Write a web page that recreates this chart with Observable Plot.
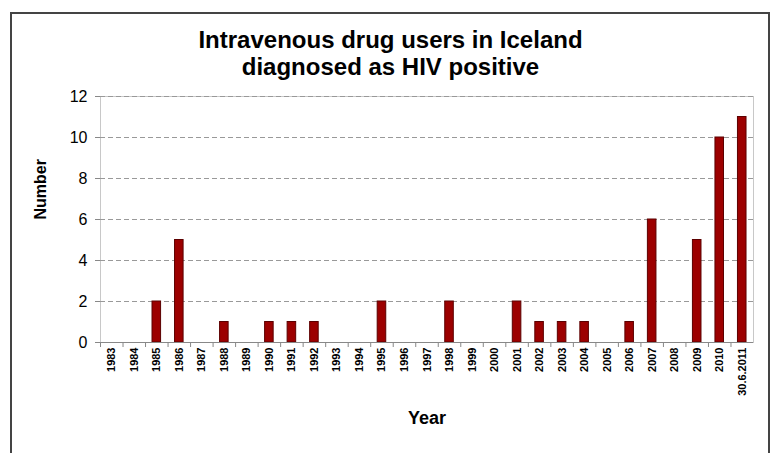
<!DOCTYPE html>
<html><head><meta charset="utf-8">
<script src="https://cdn.jsdelivr.net/npm/d3@7"></script>
<script src="https://cdn.jsdelivr.net/npm/@observablehq/plot@0.6"></script>
<style>
html,body{margin:0;padding:0;background:#fff;}
body{width:774px;height:453px;position:relative;overflow:hidden;font-family:"Liberation Sans",Arial,sans-serif;}
#frame{position:absolute;left:10px;top:12px;width:756px;height:460px;border:2px solid #444;border-bottom:none;}
#title{position:absolute;left:12px;top:26px;width:757px;text-align:center;font-weight:bold;font-size:24px;line-height:27px;color:#000;}
#chart{position:absolute;left:0;top:0;}
</style></head>
<body>
<div id="frame"></div>
<div id="title">Intravenous drug users in Iceland<br>diagnosed as HIV positive</div>
<div id="chart"></div>
<script>
const categories = ["1983","1984","1985","1986","1987","1988","1989","1990","1991","1992","1993","1994","1995","1996","1997","1998","1999","2000","2001","2002","2003","2004","2005","2006","2007","2008","2009","2010","30.6.2011"];
const values = [0,0,2,5,0,1,0,1,1,1,0,0,2,0,0,2,0,0,2,1,1,1,0,1,6,0,5,10,11];
const yTicks = [0,2,4,6,8,10,12];
const data = categories.map((c,i)=>({year:c, n:values[i]}));

const W = 774, H = 453, ML = 100, MR = 21, MT = 96, MB = 111;
const halfStep = (W - ML - MR) / categories.length / 2;
const barInset = halfStep * 0.62;

const plot = Plot.plot({
  width: W, height: H,
  marginLeft: ML, marginRight: MR, marginTop: MT, marginBottom: MB,
  style: {fontFamily: '"Liberation Sans", Arial, sans-serif', background: "transparent", color: "#000"},
  x: {domain: categories, padding: 0, round: false, label: null},
  y: {domain: [0, 12], label: null},
  marks: [
    Plot.frame({stroke: "#c8c8c8"}),
    Plot.gridY(yTicks.filter(d => d > 0), {stroke: "#999", strokeOpacity: 1, strokeDasharray: "5,3"}),
    Plot.barY(data, {x: "year", y: "n", fill: "#9c0000", stroke: "#5c0000", strokeWidth: 1, insetLeft: barInset, insetRight: barInset}),
    Plot.ruleY([0], {stroke: "#888"}),
    Plot.axisY({ticks: yTicks, tickSize: 5, tickPadding: 8, fontSize: 16, stroke: "#888", line: true, label: null}),
    Plot.axisX({tickSize: 0, tickRotate: -90, tickPadding: 5, fontSize: 11, fontWeight: "bold", label: null}),
    Plot.axisX({tickSize: 5, tickFormat: null, dx: -halfStep, stroke: "#888", label: null}),
    Plot.text(["Year"], {frameAnchor: "bottom", dy: 81, fontSize: 18, fontWeight: "bold"}),
    Plot.text(["Number"], {frameAnchor: "left", dx: -60, rotate: -90, fontSize: 16, fontWeight: "bold"})
  ]
});
document.getElementById("chart").appendChild(plot);
</script>
</body></html>
